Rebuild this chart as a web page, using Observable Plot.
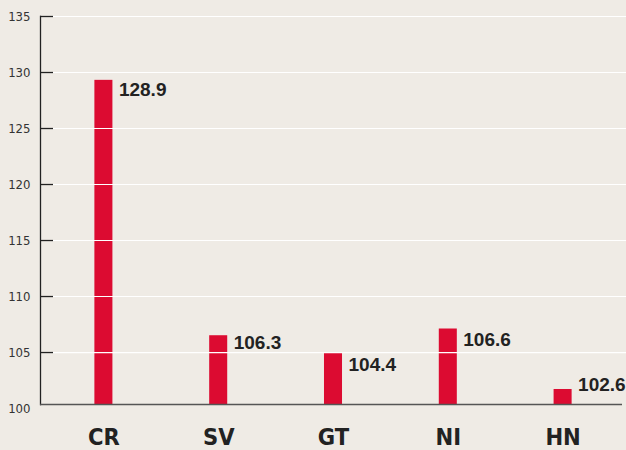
<!DOCTYPE html>
<html>
<head>
<meta charset="utf-8">
<script src="https://cdn.jsdelivr.net/npm/d3@7"></script>
<script src="https://cdn.jsdelivr.net/npm/@observablehq/plot@0.6"></script>
<style>
  html, body { margin: 0; padding: 0; background: #efebe5; }
  #chart svg { display: block; }
</style>
</head>
<body>
<div id="chart"></div>
<script>
const categories = ["CR", "SV", "GT", "NI", "HN"];
const values = [128.9, 106.3, 104.4, 106.6, 102.6];
const labels = ["128.9", "106.3", "104.4", "106.6", "102.6"];
const barTops = [129.3, 106.5, 105.0, 107.1, 101.7];
const gridTicks = [105, 110, 115, 120, 125, 130, 135];
const tickLabels = [100, 105, 110, 115, 120, 125, 130, 135];
const yBase = 100.36;
const yTop = 135;

const data = categories.map((c, i) => ({cat: c, value: values[i], label: labels[i], top: barTops[i]}));

const narrow = "'Liberation Sans Narrow', 'DejaVu Sans Condensed', 'Liberation Sans', sans-serif";

const chart = Plot.plot({
  width: 626,
  height: 450,
  marginLeft: 40,
  marginRight: 0,
  marginTop: 16,
  marginBottom: 46,
  style: {background: "#efebe5", fontFamily: narrow},
  x: {domain: categories, range: [46, 620], paddingInner: 0.843, paddingOuter: 0.4215, round: false},
  y: {domain: [yBase, yTop]},
  marks: [
    Plot.barY(data, {x: "cat", y1: () => yBase, y2: "top", fill: "#dc0b31"}),
    Plot.ruleY(gridTicks, {stroke: "#ffffff", strokeWidth: 1.2, insetLeft: 13}),
    Plot.ruleY(gridTicks, {stroke: "#222", strokeWidth: 1.3, insetRight: 573}),
    Plot.frame({anchor: "left", stroke: "#222", strokeWidth: 1.3}),
    Plot.ruleY([yBase], {stroke: "#555", strokeWidth: 1.6, insetRight: 4, insetLeft: 0}),
    Plot.axisY({ticks: tickLabels, tickSize: 0, tickPadding: 10, fontSize: 13, fill: "#333", fontFamily: narrow, label: null}),
    Plot.axisX({tickSize: 0, tickPadding: 24, fontSize: 23.5, fontWeight: "bold", fill: "#222", fontFamily: narrow, label: null}),
    Plot.text(data, {x: "cat", y: "value", text: "label", textAnchor: "start", lineAnchor: "top", dx: 15, dy: -2,
      fontSize: 19, fontWeight: "bold", fill: "#222", fontFamily: "'Liberation Sans', Arial, sans-serif"})
  ]
});
document.getElementById("chart").appendChild(chart);
</script>
</body>
</html>
